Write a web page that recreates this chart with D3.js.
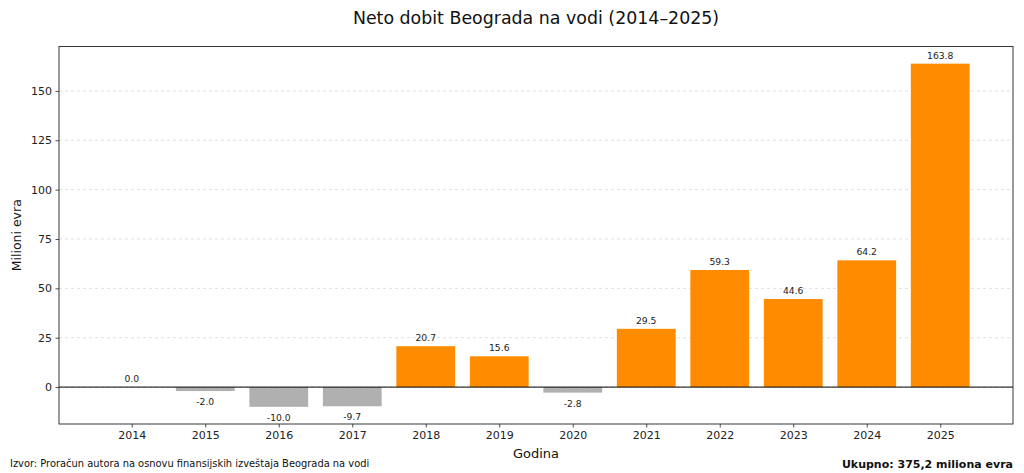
<!DOCTYPE html>
<html>
<head>
<meta charset="utf-8">
<script src="https://cdn.jsdelivr.net/npm/d3@7"></script>
<style>
  body { margin: 0; background: #fff; }
  svg { font-family: "DejaVu Sans", sans-serif; }
</style>
</head>
<body>
<div id="chart"></div>
<script>
var years = [2014, 2015, 2016, 2017, 2018, 2019, 2020, 2021, 2022, 2023, 2024, 2025];
var profit = [0.0, -2.0, -10.0, -9.7, 20.7, 15.6, -2.8, 29.5, 59.3, 44.6, 64.2, 163.8];
var yTicks = [0, 25, 50, 75, 100, 125, 150];

var svgWidth = 1024;
var svgHeight = 473;

var margin = { top: 46.5, right: 11, bottom: 49, left: 59 };
var width = svgWidth - margin.left - margin.right;
var height = svgHeight - margin.top - margin.bottom;

var svg = d3.select("#chart")
  .append("svg")
  .attr("width", svgWidth)
  .attr("height", svgHeight);

var chartGroup = svg.append("g")
  .attr("transform", `translate(${margin.left}, ${margin.top})`);

// matplotlib-like limits with 5% padding
var yMin = Math.min(0, d3.min(profit)), yMax = d3.max(profit);
var yPad = (yMax - yMin) * 0.05;
var xMin = d3.min(years) - 0.4, xMax = d3.max(years) + 0.4;
var xPad = (xMax - xMin) * 0.05;

var xScale = d3.scaleLinear()
  .domain([xMin - xPad, xMax + xPad])
  .range([0, width]);

var yScale = d3.scaleLinear()
  .domain([yMin - yPad, yMax + yPad])
  .range([height, 0]);

// grid
chartGroup.selectAll(".grid")
  .data(yTicks)
  .enter()
  .append("line")
  .attr("x1", 0)
  .attr("x2", width)
  .attr("y1", d => yScale(d))
  .attr("y2", d => yScale(d))
  .attr("stroke", "#d8d8d8")
  .attr("stroke-width", 0.8)
  .attr("stroke-dasharray", "3,3");

var barW = xScale(0.8) - xScale(0);

chartGroup.selectAll(".bar")
  .data(years)
  .enter()
  .append("rect")
  .attr("x", d => xScale(d - 0.4))
  .attr("width", barW)
  .attr("y", (d, i) => yScale(Math.max(0, profit[i])))
  .attr("height", (d, i) => Math.abs(yScale(profit[i]) - yScale(0)))
  .attr("fill", (d, i) => profit[i] > 0 ? "#ff8c00" : "#b0b0b0");

// zero line
chartGroup.append("line")
  .attr("x1", 0)
  .attr("x2", width)
  .attr("y1", yScale(0))
  .attr("y2", yScale(0))
  .attr("stroke", "#000")
  .attr("stroke-width", 1);

// value labels
chartGroup.selectAll(".val")
  .data(years)
  .enter()
  .append("text")
  .attr("x", d => xScale(d))
  .attr("y", (d, i) => profit[i] >= 0 ? yScale(profit[i]) - 5 : yScale(profit[i]) + 14)
  .attr("text-anchor", "middle")
  .attr("font-size", 9.2)
  .attr("fill", "#222")
  .text((d, i) => profit[i].toFixed(1));

// axes
var bottomAxis = d3.axisBottom(xScale).tickValues(years).tickFormat(d3.format("d")).tickSize(3.5).tickPadding(3.5);
var leftAxis = d3.axisLeft(yScale).tickValues(yTicks).tickSize(3.5).tickPadding(3.5);

var gx = chartGroup.append("g")
  .attr("transform", `translate(0, ${height})`)
  .call(bottomAxis);
var gy = chartGroup.append("g")
  .call(leftAxis);

[gx, gy].forEach(function(g) {
  g.select(".domain").remove();
  g.selectAll("text").attr("font-size", 11).attr("fill", "#222").attr("font-family", "DejaVu Sans");
  g.selectAll("line").attr("stroke", "#222").attr("stroke-width", 0.8);
});

// frame
chartGroup.append("rect")
  .attr("width", width)
  .attr("height", height)
  .attr("fill", "none")
  .attr("stroke", "#222")
  .attr("stroke-width", 0.9);

// titles
svg.append("text")
  .attr("x", margin.left + width / 2)
  .attr("y", 24)
  .attr("text-anchor", "middle")
  .attr("font-size", 17.4)
  .attr("fill", "#111")
  .text("Neto dobit Beograda na vodi (2014–2025)");

chartGroup.append("text")
  .attr("transform", "rotate(-90)")
  .attr("x", 0 - height / 2)
  .attr("y", -38)
  .attr("text-anchor", "middle")
  .attr("font-size", 12.5)
  .attr("fill", "#111")
  .text("Milioni evra");

chartGroup.append("text")
  .attr("x", width / 2)
  .attr("y", height + 34)
  .attr("text-anchor", "middle")
  .attr("font-size", 13)
  .attr("fill", "#111")
  .text("Godina");

svg.append("text")
  .attr("x", 10)
  .attr("y", 467)
  .attr("font-size", 9.9)
  .attr("fill", "#111")
  .text("Izvor: Proračun autora na osnovu finansijskih izveštaja Beograda na vodi");

svg.append("text")
  .attr("x", 1013)
  .attr("y", 468)
  .attr("text-anchor", "end")
  .attr("font-size", 11)
  .attr("font-weight", "bold")
  .attr("fill", "#111")
  .text("Ukupno: 375,2 miliona evra");
</script>
</body>
</html>
